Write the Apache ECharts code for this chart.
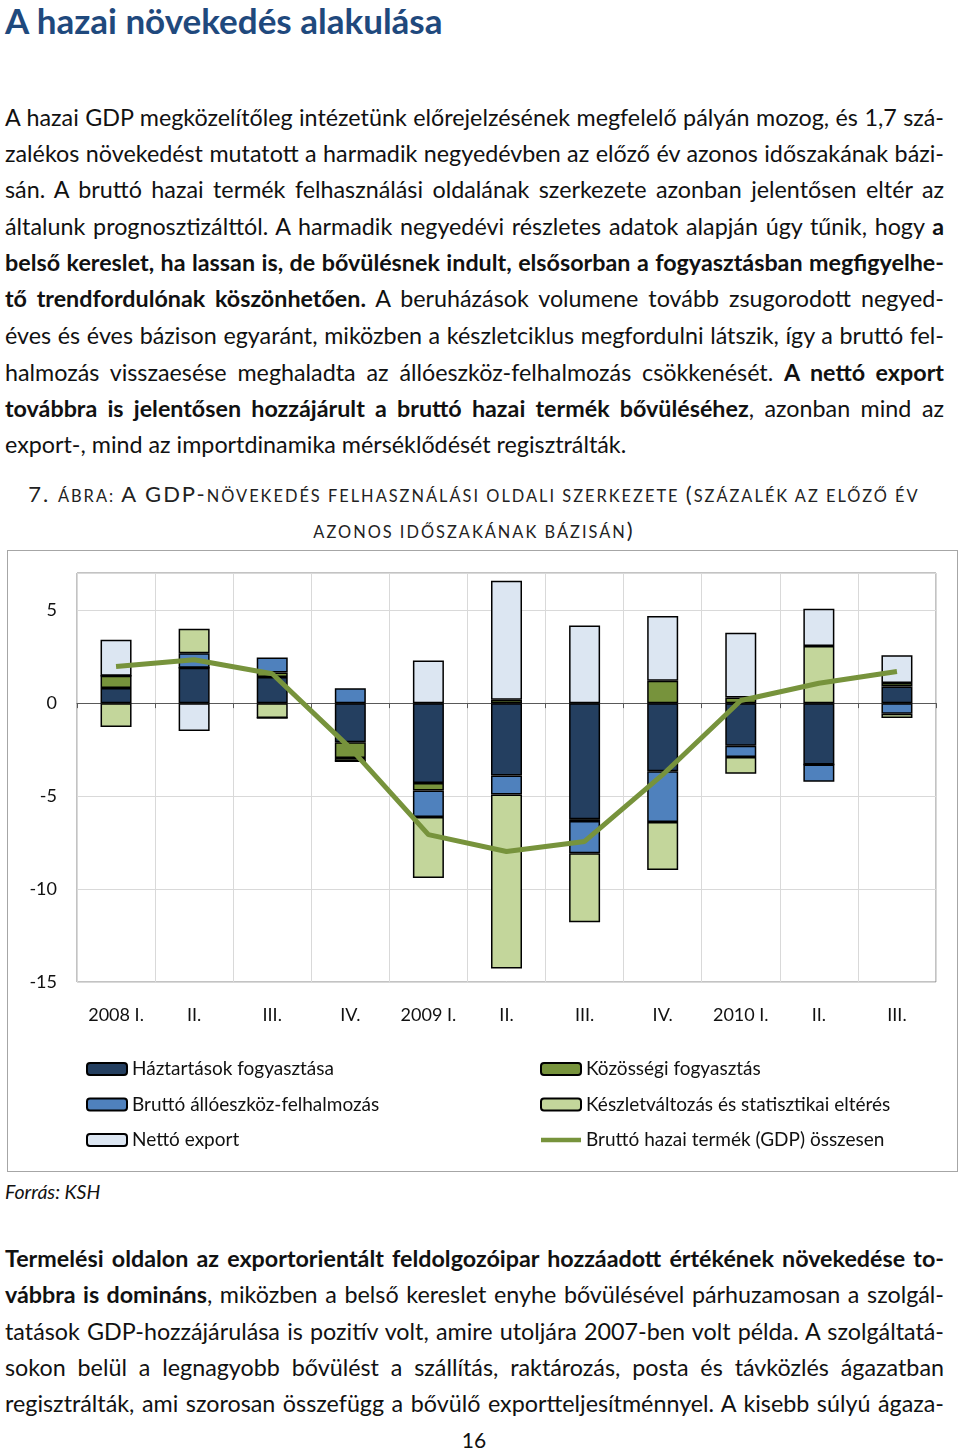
<!DOCTYPE html>
<html><head><meta charset="utf-8">
<script src="https://cdn.jsdelivr.net/npm/echarts@6/dist/echarts.min.js"></script>
<style>
body{margin:0;width:960px;height:1450px;background:#fff;font-family:Lato,sans-serif;color:#111;position:relative;overflow:hidden}
h1{position:absolute;left:5px;top:0;margin:0;font-size:35px;line-height:40px;color:#1F497D;font-weight:bold}
.t{position:absolute;left:5px;width:939px;font-size:23.3px;height:36px;line-height:36px;white-space:nowrap;text-align:left}
.cap{position:absolute;left:0;width:948px;text-align:center;line-height:36px;letter-spacing:2px;color:#222}
.cap .L{font-size:22px}
.cap .S{font-size:16.4px}
#chart{position:absolute;left:7px;top:550px;width:951px;height:622px;border:1px solid #a6a6a6;box-sizing:border-box}
.src{position:absolute;left:5px;top:1180px;font-size:19.5px;font-style:italic;line-height:24px}
.pg{position:absolute;left:0;width:948px;text-align:center;top:1428px;font-size:21px;line-height:24px}
</style></head>
<body>
<h1>A hazai növekedés alakulása</h1>
<div class="t" style="top:99px">A hazai GDP megközelítőleg intézetünk előrejelzésének megfelelő pályán mozog, és 1,7 szá-</div>
<div class="t" style="top:135px">zalékos növekedést mutatott a harmadik negyedévben az előző év azonos időszakának bázi-</div>
<div class="t" style="top:171px">sán. A bruttó hazai termék felhasználási oldalának szerkezete azonban jelentősen eltér az</div>
<div class="t" style="top:208px">általunk prognosztizálttól. A harmadik negyedévi részletes adatok alapján úgy tűnik, hogy <b>a</b></div>
<div class="t" style="top:244px"><b>belső kereslet, ha lassan is, de bővülésnek indult, elsősorban a fogyasztásban megfigyelhe-</b></div>
<div class="t" style="top:280px"><b>tő trendfordulónak köszönhetően.</b> A beruházások volumene tovább zsugorodott negyed-</div>
<div class="t" style="top:317px">éves és éves bázison egyaránt, miközben a készletciklus megfordulni látszik, így a bruttó fel-</div>
<div class="t" style="top:354px">halmozás visszaesése meghaladta az állóeszköz-felhalmozás csökkenését. <b>A nettó export</b></div>
<div class="t" style="top:390px"><b>továbbra is jelentősen hozzájárult a bruttó hazai termék bővüléséhez</b>, azonban mind az</div>
<div class="t last" style="top:426px">export-, mind az importdinamika mérséklődését regisztrálták.</div>

<div class="cap" style="top:476px"><span class="L">7. </span><span class="S">ÁBRA: </span><span class="L">A GDP-</span><span class="S">NÖVEKEDÉS FELHASZNÁLÁSI OLDALI SZERKEZETE </span><span class="L">(</span><span class="S">SZÁZALÉK AZ ELŐZŐ ÉV</span></div>
<div class="cap" style="top:512px"><span class="S">AZONOS IDŐSZAKÁNAK BÁZISÁN</span><span class="L">)</span></div>

<div id="chart"></div>
<div class="src">Forrás: KSH</div>

<div class="t" style="top:1240px"><b>Termelési oldalon az exportorientált feldolgozóipar hozzáadott értékének növekedése to-</b></div>
<div class="t" style="top:1276px"><b>vábbra is domináns</b>, miközben a belső kereslet enyhe bővülésével párhuzamosan a szolgál-</div>
<div class="t" style="top:1313px">tatások GDP-hozzájárulása is pozitív volt, amire utoljára 2007-ben volt példa. A szolgáltatá-</div>
<div class="t" style="top:1349px">sokon belül a legnagyobb bővülést a szállítás, raktározás, posta és távközlés ágazatban</div>
<div class="t" style="top:1385px">regisztrálták, ami szorosan összefügg a bővülő exportteljesítménnyel. A kisebb súlyú ágaza-</div>
<div class="pg">16</div>

<script>
// justify each text line exactly to the column width
document.querySelectorAll('.t').forEach(div => {
  if (div.classList.contains('last')) return;
  const span = document.createElement('span');
  while (div.firstChild) span.appendChild(div.firstChild);
  div.appendChild(span);
  const w = span.getBoundingClientRect().width;
  const spaces = (div.textContent.match(/ /g) || []).length;
  if (spaces) div.style.wordSpacing = ((939 - w) / spaces) + 'px';
});

const categories = ["2008 I.", "II.", "III.", "IV.", "2009 I.", "II.", "III.", "IV.", "2010 I.", "II.", "III."];
const haztartasok = [0.81, 1.9, 1.4, -2.1, -4.3, -3.89, -6.24, -3.67, -2.29, -3.3, 0.9];
const kozossegi = [0.66, 0, 0.25, -0.85, -0.4, 0.18, -0.1, 1.2, 0.3, 0, 0.18];
const alloeszkoz = [0, 0.79, 0.8, 0.8, -1.42, -1.02, -1.74, -2.72, -0.61, -0.93, -0.57];
const keszlet = [-1.29, 1.31, -0.8, -0.18, -3.28, -9.37, -3.7, -2.58, -0.9, 3.08, -0.23];
const nettoExport = [1.94, -1.5, 0, 0, 2.29, 6.4, 4.18, 3.49, 3.49, 2.0, 1.5];
const gdp = [1.97, 2.33, 1.58, -2.42, -7.07, -7.98, -7.44, -3.85, 0.14, 1.07, 1.7];

const names = ["Háztartások fogyasztása", "Közösségi fogyasztás", "Bruttó állóeszköz-felhalmozás",
  "Készletváltozás és statisztikai eltérés", "Nettó export", "Bruttó hazai termék (GDP) összesen"];
const colors = ["#243F60", "#77933C", "#4F81BD", "#C3D69B", "#DCE6F2", "#77933C"];
const barData = [haztartasok, kozossegi, alloeszkoz, keszlet, nettoExport];

const font = "Lato, sans-serif";
const chart = echarts.init(document.getElementById("chart"), null, {renderer: "canvas"});
const series = barData.map((d, i) => ({
  name: names[i], type: "bar", stack: "a", data: d, barWidth: 31,
  itemStyle: {color: colors[i], borderColor: "#000", borderWidth: 1.5},
  emphasis: {disabled: true}
}));
series.push({
  name: names[5], type: "line", data: gdp, symbol: "none", showSymbol: false,
  lineStyle: {color: colors[5], width: 5}, itemStyle: {color: colors[5]}, z: 5
});
const legendText = {fontFamily: font, fontSize: 19, color: "#111", lineHeight: 20};
const lineIcon = "path://M0,0H40V4.5H0Z";
chart.setOption({
  animation: false,
  grid: {left: 69, top: 22, right: 21, bottom: 189, show: true, borderColor: "#868686", borderWidth: 1},
  xAxis: [
    {type: "category", data: categories, axisLine: {onZero: true, lineStyle: {color: "#595959", width: 1}},
     axisTick: {show: true, length: 5, lineStyle: {color: "#595959"}}, axisLabel: {show: false},
     splitLine: {show: true, lineStyle: {color: "#d9d9d9", width: 1}}},
    {type: "category", data: categories, position: "bottom", axisLine: {show: false, onZero: false},
     axisTick: {show: false}, splitLine: {show: false},
     axisLabel: {margin: 24, fontFamily: font, fontSize: 18, color: "#111"}}
  ],
  yAxis: {type: "value", min: -15, max: 7, interval: 5,
    axisLine: {show: false}, axisTick: {show: false},
    axisLabel: {showMaxLabel: false, margin: 20, fontFamily: font, fontSize: 18, color: "#111"},
    splitLine: {lineStyle: {color: "#d9d9d9", width: 1}}},
  legend: [
    {left: 73, top: 503, orient: "vertical", itemWidth: 40, itemHeight: 12, itemGap: 15.5,
     data: [names[0], names[2], names[4]], textStyle: legendText, selectedMode: false},
    {left: 527, top: 503, orient: "vertical", itemWidth: 40, itemHeight: 12, itemGap: 15.5,
     data: [names[1], names[3], {name: names[5], icon: lineIcon, itemStyle: {borderWidth: 0, color: colors[5]}}],
     textStyle: legendText, selectedMode: false}
  ],
  series: series
});
</script>
</body></html>
